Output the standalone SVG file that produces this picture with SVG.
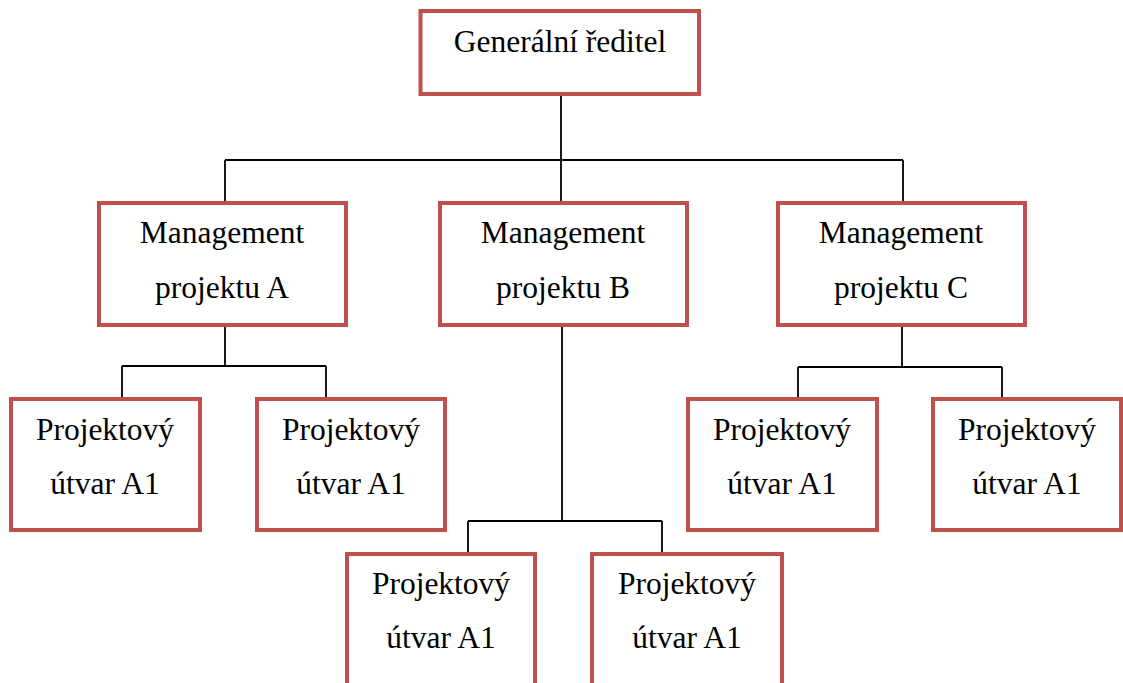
<svg xmlns="http://www.w3.org/2000/svg" width="1123" height="683" viewBox="0 0 1123 683">
  <style>
    .box { fill: #ffffff; stroke: #C0504D; stroke-width: 4; }
    .lbl { font-family: 'Liberation Serif', 'Times New Roman', Times, 'DejaVu Serif', serif; font-size: 31.5px; fill: #000000; text-anchor: middle; }
    .wire { fill: none; stroke: #000000; stroke-width: 1.8; }
  </style>
  <rect width="1123" height="683" fill="#ffffff"/>

  <!-- connectors -->
  <g id="connectors">
    <path class="wire" d="M561,96 V160 M225,160 H903 M225,160 V201 M561,160 V201 M903,160 V201"/>
    <path class="wire" d="M225,327 V366 M122,366 H326 M122,366 V397 M326,366 V397"/>
    <path class="wire" d="M562,327 V521 M468,521 H662 M468,521 V552 M662,521 V552"/>
    <path class="wire" d="M902,327 V367 M798,367 H1002 M798,367 V397 M1002,367 V397"/>
  </g>

  <g id="ceo">
    <rect class="box" x="420.5" y="11" width="278.5" height="83"/>
    <text class="lbl" x="560" y="52" font-family="Liberation Serif, serif">Generální ředitel</text>
  </g>

  <g id="mgmt-a">
    <rect class="box" x="99" y="203" width="247" height="122"/>
    <text class="lbl" x="222" y="243">Management</text>
    <text class="lbl" x="222" y="298">projektu A</text>
  </g>
  <g id="mgmt-b">
    <rect class="box" x="440" y="203" width="247" height="122"/>
    <text class="lbl" x="563" y="243">Management</text>
    <text class="lbl" x="563" y="298">projektu B</text>
  </g>
  <g id="mgmt-c">
    <rect class="box" x="778" y="203" width="247" height="122"/>
    <text class="lbl" x="901" y="243">Management</text>
    <text class="lbl" x="901" y="298">projektu C</text>
  </g>

  <g id="unit-a1">
    <rect class="box" x="11" y="399" width="189" height="131"/>
    <text class="lbl" x="105" y="440">Projektový</text>
    <text class="lbl" x="105" y="494">útvar A1</text>
  </g>
  <g id="unit-a2">
    <rect class="box" x="257" y="399" width="188" height="131"/>
    <text class="lbl" x="351" y="440">Projektový</text>
    <text class="lbl" x="351" y="494">útvar A1</text>
  </g>
  <g id="unit-b1">
    <rect class="box" x="347" y="554" width="188" height="140"/>
    <text class="lbl" x="441" y="594">Projektový</text>
    <text class="lbl" x="441" y="648">útvar A1</text>
  </g>
  <g id="unit-b2">
    <rect class="box" x="592" y="554" width="190" height="140"/>
    <text class="lbl" x="687" y="594">Projektový</text>
    <text class="lbl" x="687" y="648">útvar A1</text>
  </g>
  <g id="unit-c1">
    <rect class="box" x="688" y="399" width="189" height="131"/>
    <text class="lbl" x="782" y="440">Projektový</text>
    <text class="lbl" x="782" y="494">útvar A1</text>
  </g>
  <g id="unit-c2">
    <rect class="box" x="933" y="399" width="188" height="131"/>
    <text class="lbl" x="1027" y="440">Projektový</text>
    <text class="lbl" x="1027" y="494">útvar A1</text>
  </g>
</svg>
